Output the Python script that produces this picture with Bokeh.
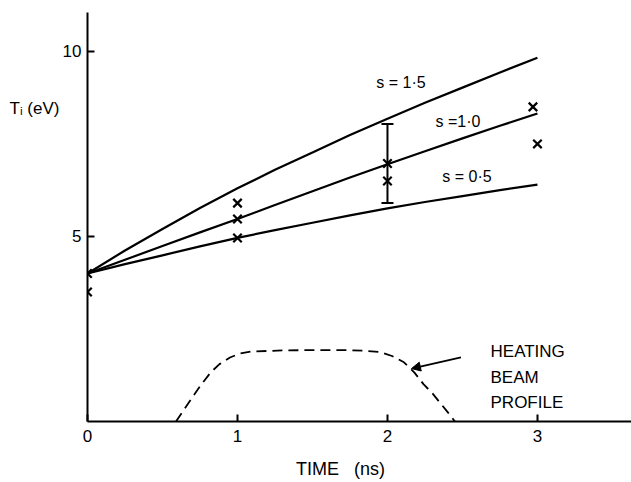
from bokeh.plotting import figure
from bokeh.models import (ColumnDataSource, Range1d, FixedTicker, Arrow, LinearAxis,
                          NormalHead, Whisker, TeeHead)
from bokeh.core.properties import value
from bokeh.embed import file_html
from bokeh.resources import INLINE

FONT = "Liberation Sans"

# ---- data ----
t_model = [0.0, 0.25, 0.5, 0.75, 1.0, 1.25, 1.5, 1.75, 2.0, 2.25, 2.5, 2.75, 3.0]
ti_s15 = [4.0, 4.62, 5.2, 5.77, 6.30, 6.8, 7.27, 7.74, 8.18, 8.61, 9.02, 9.43, 9.83]
ti_s10 = [4.0, 4.37, 4.74, 5.11, 5.47, 5.85, 6.22, 6.59, 6.95, 7.3, 7.65, 7.99, 8.32]
ti_s05 = [4.0, 4.25, 4.49, 4.73, 4.96, 5.17, 5.37, 5.57, 5.76, 5.93, 6.09, 6.25, 6.40]

t_meas = [0.0, 0.0, 1.0, 1.0, 1.0, 2.0, 2.0, 2.97, 3.0]
ti_meas = [4.0, 3.5, 5.9, 5.47, 4.96, 6.97, 6.5, 8.5, 7.5]

err_t = [2.0]
err_low = [5.9]
err_high = [8.04]

beam_t = [0.59, 0.64, 0.69, 0.75, 0.82, 0.88, 0.95, 1.02, 1.09, 1.3, 1.5, 1.7,
          1.85, 1.95, 2.03, 2.11, 2.18, 2.24, 2.3, 2.35, 2.4, 2.45]
beam_y = [0.0, 0.3, 0.6, 0.95, 1.32, 1.55, 1.73, 1.84, 1.89, 1.92, 1.93, 1.93,
          1.91, 1.88, 1.77, 1.6, 1.32, 1.01, 0.76, 0.51, 0.26, 0.0]

x_ticks = [0, 1, 2, 3]
y_ticks = [5, 10]
curve_labels = ["s = 1·5", "s =1·0", "s = 0·5"]
beam_labels = ["HEATING", "BEAM", "PROFILE"]
y_title = "Tᵢ (eV)"
x_title = "TIME\u00a0\u00a0\u00a0(ns)"

p = figure(width=631, height=482, output_backend="svg", toolbar_location=None,
           x_range=Range1d(0, 3.627), y_range=Range1d(0, 11.05),
           min_border_left=87, min_border_right=0, min_border_top=12,
           min_border_bottom=61)
p.outline_line_color = None
p.grid.visible = False
p.background_fill_color = "white"
p.border_fill_color = "white"

for ax in (p.xaxis[0], p.yaxis[0]):
    ax.axis_line_width = 2
    ax.axis_line_color = "black"
    ax.major_tick_line_width = 2
    ax.major_tick_in = 7
    ax.major_tick_out = 0
    ax.minor_tick_line_color = None
    ax.major_label_text_font = FONT
    ax.major_label_text_font_size = "17px"
    ax.major_label_text_color = "black"
p.xaxis[0].ticker = FixedTicker(ticks=x_ticks)
p.yaxis[0].ticker = FixedTicker(ticks=y_ticks)
p.xaxis[0].major_label_standoff = 8
p.yaxis[0].major_label_standoff = 6

# axis titles as labels of line-less extra axes
ylab_axis = LinearAxis(ticker=FixedTicker(ticks=[8.46]),
                       major_label_overrides={8.46: y_title})
xlab_axis = LinearAxis(ticker=FixedTicker(ticks=[1.687]),
                       major_label_overrides={1.687: x_title})
for ax in (ylab_axis, xlab_axis):
    ax.axis_line_color = None
    ax.major_tick_line_color = None
    ax.minor_tick_line_color = None
    ax.major_tick_in = 0
    ax.major_tick_out = 0
    ax.major_label_text_font = FONT
    ax.major_label_text_font_size = "17px"
    ax.major_label_text_color = "black"
xlab_axis.major_label_text_font_size = "18px"
ylab_axis.major_label_standoff = 0
xlab_axis.major_label_standoff = 14
p.add_layout(ylab_axis, "left")
p.add_layout(xlab_axis, "below")

# model curves
for ys in (ti_s15, ti_s10, ti_s05):
    p.line(t_model, ys, line_color="black", line_width=2.2)

# measurements
p.scatter(t_meas, ti_meas, marker="x", size=12, line_color="black", line_width=2.2)

# error bar
esrc = ColumnDataSource(dict(base=err_t, lower=err_low, upper=err_high))
w = Whisker(source=esrc, base="base", lower="lower", upper="upper", dimension="height",
            line_color="black", line_width=2,
            lower_head=TeeHead(size=12, line_color="black", line_width=2),
            upper_head=TeeHead(size=12, line_color="black", line_width=2))
p.add_layout(w)

# beam profile
p.line(beam_t, beam_y, line_color="black", line_width=1.8, line_dash="10 6")

p.add_layout(Arrow(end=NormalHead(size=9, fill_color="black", line_color="black"),
                   x_start=2.49, y_start=1.73, x_end=2.16, y_end=1.43,
                   line_color="black", line_width=1.8))

# curve labels
p.text(x=[2.09, 2.47, 2.53], y=[9.16, 8.1, 6.62], text=curve_labels,
       text_font=value(FONT), text_font_size="16px", text_align="center",
       text_baseline="middle", text_color="black")

# beam text
p.text(x=[2.687, 2.687, 2.687], y=[1.89, 1.19, 0.51], text=beam_labels,
       text_font=value(FONT), text_font_size="17px", text_align="left",
       text_baseline="middle", text_color="black")

open("out.html", "w").write(file_html(p, INLINE))
